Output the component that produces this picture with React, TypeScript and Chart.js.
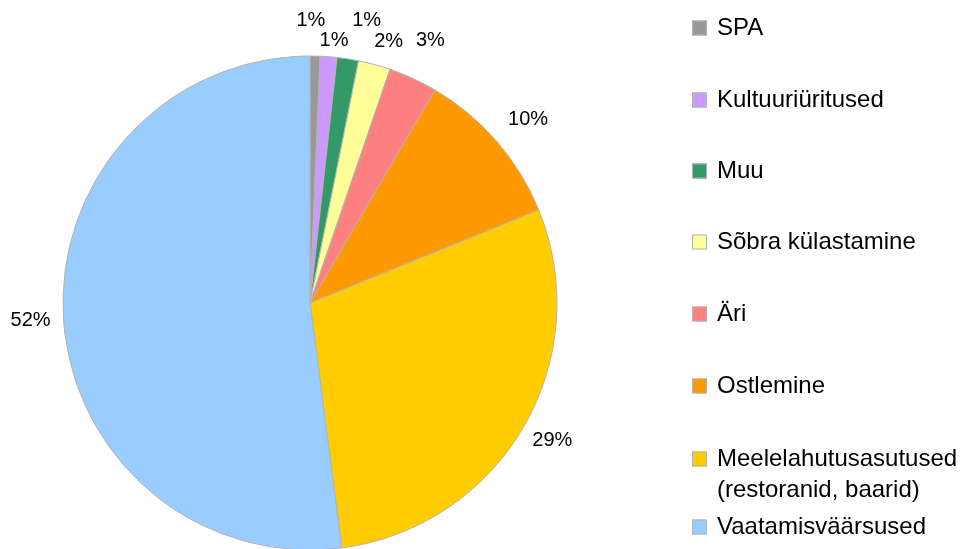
import React, { useEffect, useRef } from "react";
import { Chart, registerables } from "chart.js";

Chart.register(...registerables);

const categories: string[] = [
  "SPA",
  "Kultuuriüritused",
  "Muu",
  "Sõbra külastamine",
  "Äri",
  "Ostlemine",
  "Meelelahutusasutused (restoranid, baarid)",
  "Vaatamisväärsused",
];

const shares: number[] = [0.65, 1.1, 1.4, 2.1, 3.2, 10.4, 29.1, 52.05];

const sliceColors: string[] = [
  "#999999",
  "#cc99ff",
  "#339966",
  "#ffff99",
  "#ff8080",
  "#ff9900",
  "#ffcc00",
  "#99ccff",
];

const FONT = '"Liberation Sans", Arial, Helvetica, sans-serif';

const overlayStyle = {
  labelFont: `20px ${FONT}`,
  legendFont: `24px ${FONT}`,
  textColor: "#000000",
  // radial extra distance beyond the outer radius, and angular nudge (deg), per label
  labelPlacement: [
    [36, -1.0],
    [17, 0.9],
    [41.6, 2.5],
    [26.5, 1.6],
    [41.4, 0],
    [38.3, 0.7],
    [31.5, -0.7],
    [33, 0.1],
  ],
  legendBoxX: 692,
  legendBoxSize: 15,
  legendTextX: 717,
  legendMaxWidth: 244,
  legendLineHeight: 31,
  legendRowY: [28, 100, 171, 242, 314, 386, 459, 527],
  boxBorder: "#b3b3b3",
};

const overlayPlugin = {
  id: "overlay",
  afterDraw(chart: any) {
    const ctx: CanvasRenderingContext2D = chart.ctx;
    const meta = chart.getDatasetMeta(0);
    const data: number[] = chart.data.datasets[0].data;
    const total = data.reduce((a, b) => a + b, 0);
    const st = overlayStyle;

    ctx.save();
    // percentage labels
    ctx.font = st.labelFont;
    ctx.fillStyle = st.textColor;
    ctx.textAlign = "center";
    ctx.textBaseline = "middle";
    meta.data.forEach((arc: any, i: number) => {
      const p = arc.getProps(["x", "y", "startAngle", "endAngle", "outerRadius"], true);
      const [dr, da] = st.labelPlacement[i] || [36, 0];
      const mid = (p.startAngle + p.endAngle) / 2 + (da * Math.PI) / 180;
      const d = p.outerRadius + dr;
      const lx = p.x + Math.cos(mid) * d;
      const ly = p.y + Math.sin(mid) * d;
      const txt = Math.round((data[i] / total) * 100) + "%";
      ctx.fillText(txt, lx, ly);
    });

    // legend
    ctx.font = st.legendFont;
    ctx.textAlign = "left";
    const labels: string[] = chart.data.labels;
    const colors: string[] = chart.data.datasets[0].backgroundColor;
    labels.forEach((lab, i) => {
      const y0 = st.legendRowY[i];
      // wrap
      const words = lab.split(" ");
      const lines: string[] = [];
      let cur = "";
      words.forEach((w) => {
        const test = cur ? cur + " " + w : w;
        if (cur && ctx.measureText(test).width > st.legendMaxWidth) {
          lines.push(cur);
          cur = w;
        } else {
          cur = test;
        }
      });
      if (cur) lines.push(cur);

      const s = st.legendBoxSize;
      ctx.fillStyle = colors[i];
      ctx.fillRect(st.legendBoxX, y0 - s / 2, s, s);
      ctx.strokeStyle = st.boxBorder;
      ctx.lineWidth = 1;
      ctx.strokeRect(st.legendBoxX + 0.5, y0 - s / 2 + 0.5, s - 1, s - 1);

      ctx.fillStyle = st.textColor;
      ctx.textBaseline = "middle";
      lines.forEach((ln, k) => {
        ctx.fillText(ln, st.legendTextX, y0 + k * st.legendLineHeight);
      });
    });
    ctx.restore();
  },
};

export default function App() {
  const ref = useRef<HTMLCanvasElement | null>(null);

  useEffect(() => {
    if (!ref.current) return;
    const chart = new Chart(ref.current, {
      type: "pie",
      data: {
        labels: categories,
        datasets: [
          {
            data: shares,
            backgroundColor: sliceColors,
            borderColor: "#b3b3b3",
            borderWidth: 1,
            radius: 247,
            clip: false,
          } as any,
        ],
      },
      options: {
        animation: false,
        responsive: false,
        maintainAspectRatio: false,
        layout: { padding: { left: 0, right: 343, top: 57, bottom: 0 } },
        plugins: {
          legend: { display: false },
          tooltip: { enabled: false },
        },
      } as any,
      plugins: [overlayPlugin],
    });
    return () => chart.destroy();
  }, []);

  return (
    <div
      style={{
        position: "absolute",
        left: 0,
        top: 0,
        width: 963,
        height: 549,
        background: "#ffffff",
      }}
    >
      <canvas ref={ref} width={963} height={549} style={{ width: 963, height: 549 }} />
    </div>
  );
}
